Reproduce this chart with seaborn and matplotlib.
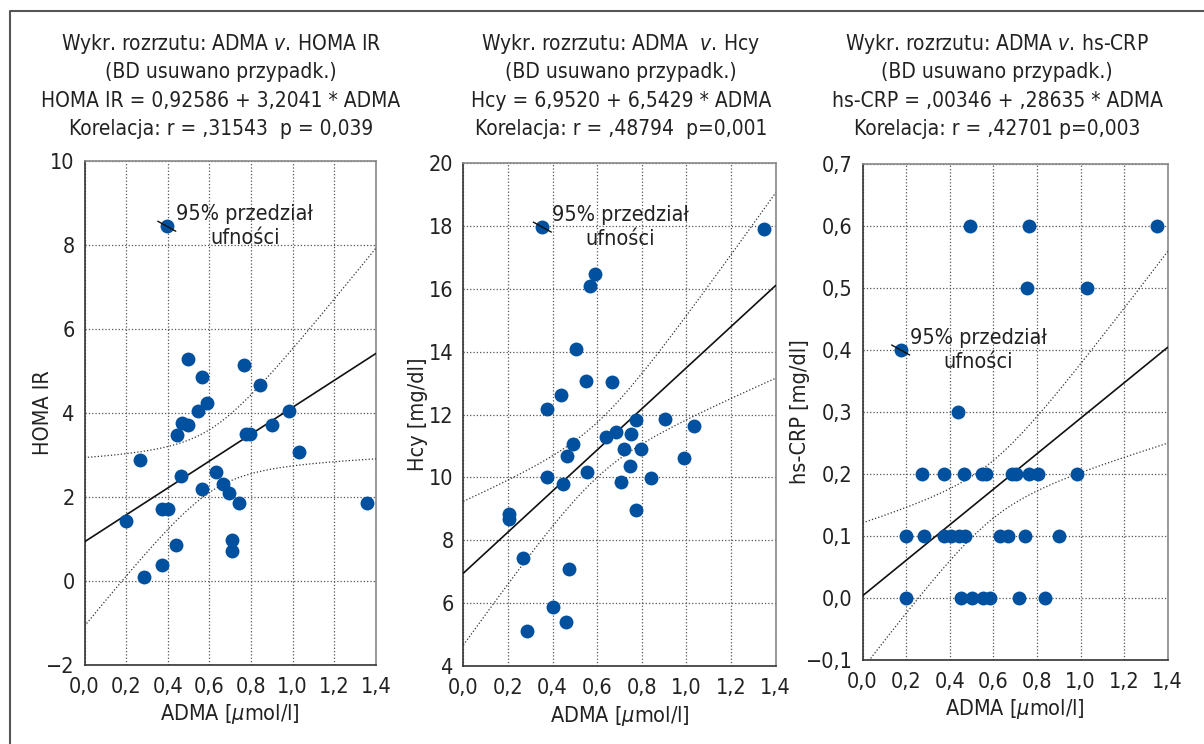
import matplotlib
matplotlib.use('Agg')
import matplotlib.pyplot as plt
import matplotlib.transforms as mtransforms
from matplotlib import font_manager as fm
from matplotlib.lines import Line2D
import seaborn as sns
import pandas as pd
import numpy as np

# --- data ---
homa_x = [0.395, 0.496, 0.566, 0.589, 0.547, 0.767, 0.842, 0.983, 0.470, 0.499,
          0.446, 0.775, 0.796, 0.901, 1.031, 0.267, 0.462, 0.632, 0.664, 0.693,
          0.566, 0.741, 1.357, 0.371, 0.403, 0.200, 0.708, 0.708, 0.438, 0.373, 0.286]
homa_y = [8.44, 5.27, 4.86, 4.24, 4.04, 5.13, 4.66, 4.04, 3.76, 3.70,
          3.46, 3.50, 3.50, 3.71, 3.07, 2.87, 2.50, 2.58, 2.30, 2.08,
          2.18, 1.84, 1.84, 1.70, 1.70, 1.42, 0.97, 0.71, 0.84, 0.37, 0.09]

hcy_x = [0.354, 1.349, 0.590, 0.568, 0.504, 0.549, 0.667, 0.438, 0.375, 0.773,
         0.903, 1.034, 0.683, 0.638, 0.752, 0.493, 0.722, 0.798, 0.465, 0.991,
         0.374, 0.556, 0.747, 0.448, 0.707, 0.841, 0.773, 0.205, 0.205, 0.269,
         0.472, 0.403, 0.459, 0.286]
hcy_y = [17.97, 17.90, 16.48, 16.10, 14.10, 13.07, 13.03, 12.62, 12.19, 11.82,
         11.85, 11.63, 11.45, 11.30, 11.40, 11.06, 10.91, 10.91, 10.67, 10.62,
         10.00, 10.18, 10.35, 9.79, 9.87, 9.98, 8.96, 8.84, 8.68, 7.45,
         7.10, 5.88, 5.39, 5.11]

crp_x = [0.495, 0.766, 1.349, 0.753, 1.028, 0.175, 0.438,
         0.271, 0.374, 0.464, 0.548, 0.568, 0.684, 0.705, 0.763, 0.804, 0.983,
         0.199, 0.283, 0.373, 0.405, 0.443, 0.470, 0.629, 0.667, 0.747, 0.903,
         0.199, 0.454, 0.502, 0.554, 0.586, 0.720, 0.838]
crp_y = [0.6, 0.6, 0.6, 0.5, 0.5, 0.4, 0.3,
         0.2, 0.2, 0.2, 0.2, 0.2, 0.2, 0.2, 0.2, 0.2, 0.2,
         0.1, 0.1, 0.1, 0.1, 0.1, 0.1, 0.1, 0.1, 0.1, 0.1,
         0.0, 0.0, 0.0, 0.0, 0.0, 0.0, 0.0]

# regression stats printed in the titles (n estimated: points overlap in the plot)
intercepts = [0.92586, 6.9520, 0.00346]
slopes = [3.2041, 6.5429, 0.28635]
r_values = [0.31543, 0.48794, 0.42701]
n_cases = [43, 47, 47]

titles = [
    ["Wykr. rozrzutu: ADMA $\\mathit{v.}\\,$HOMA IR", "(BD usuwano przypadk.)",
     "HOMA IR = 0,92586 + 3,2041 * ADMA", "Korelacja: r = ,31543  p = 0,039"],
    ["Wykr. rozrzutu: ADMA  $\\mathit{v.}\\,$Hcy", "(BD usuwano przypadk.)",
     "Hcy = 6,9520 + 6,5429 * ADMA", "Korelacja: r = ,48794  p=0,001"],
    ["Wykr. rozrzutu: ADMA $\\mathit{v.}\\,$hs-CRP", "(BD usuwano przypadk.)",
     "hs-CRP = ,00346 + ,28635 * ADMA", "Korelacja: r = ,42701 p=0,003"],
]
y_labels = ["HOMA IR", "Hcy [mg/dl]", "hs-CRP [mg/dl]"]
x_label = "ADMA [$\\mu$mol/l]"
x_ticks = [0.0, 0.2, 0.4, 0.6, 0.8, 1.0, 1.2, 1.4]
x_ticklabels = ["0,0", "0,2", "0,4", "0,6", "0,8", "1,0", "1,2", "1,4"]
y_ticks = [[-2, 0, 2, 4, 6, 8, 10],
           [4, 6, 8, 10, 12, 14, 16, 18, 20],
           [-0.1, 0.0, 0.1, 0.2, 0.3, 0.4, 0.5, 0.6, 0.7]]
y_ticklabels = [["\u22122", "0", "2", "4", "6", "8", "10"],
                ["4", "6", "8", "10", "12", "14", "16", "18", "20"],
                ["\u22120,1", "0,0", "0,1", "0,2", "0,3", "0,4", "0,5", "0,6", "0,7"]]
ci_label = "95% przedział\nufności"
ci_point = [0, 0, 5]   # which point carries the little leader mark

T_CRIT = 2.02  # t(0.975) for ~40 df

sns.set_style('white')

# pick a narrow sans if one is installed
fonts = fm.fontManager.ttflist
family, stretch = 'DejaVu Sans', 'normal'
if any(f.name == 'Liberation Sans Narrow' for f in fonts):
    family = 'Liberation Sans Narrow'
elif any(f.name == 'DejaVu Sans' and 'Condensed' in f.fname for f in fonts):
    stretch = 'condensed'
plt.rcParams['font.family'] = [family, 'DejaVu Sans']
plt.rcParams['font.stretch'] = stretch
plt.rcParams['mathtext.fontset'] = 'custom'
plt.rcParams['mathtext.rm'] = f'{family}:stretch={stretch}'
plt.rcParams['mathtext.it'] = f'{family}:style=italic:stretch={stretch}'

W, H = 1204, 744
fig = plt.figure(figsize=(W / 100, H / 100), dpi=100)

# axes boxes in pixels: left, right, top, bottom
boxes = [(84.5, 376, 160.7, 664.7), (463.3, 775.7, 163.3, 666), (862.5, 1167.7, 164, 660)]
title_cx = [221, 621, 997]
ylabel_x = [-0.108, -0.113, -0.172]

datasets = [(homa_x, homa_y), (hcy_x, hcy_y), (crp_x, crp_y)]
blue = '#0050A0'
fs = 15.5
fs_title = 15

for i, (xs, ys) in enumerate(datasets):
    l, r, t, b = boxes[i]
    ax = fig.add_axes([l / W, 1 - b / H, (r - l) / W, (b - t) / H])
    df = pd.DataFrame({'x': xs, 'y': ys})

    # fitted line and 95% confidence band for the mean, from b, r and n
    grid = np.linspace(0, 1.4, 200)
    yhat = intercepts[i] + slopes[i] * grid
    x_arr = np.asarray(xs)
    rr, nn = r_values[i], n_cases[i]
    scale = T_CRIT * abs(slopes[i]) * np.sqrt((1 - rr ** 2) / (rr ** 2 * (nn - 2)))
    half = scale * np.sqrt(x_arr.var() + (grid - x_arr.mean()) ** 2)
    fit = pd.DataFrame({'x': grid, 'fit': yhat, 'lo': yhat - half, 'hi': yhat + half})

    sns.lineplot(data=fit, x='x', y='fit', ax=ax, color='#111111', lw=1.2, zorder=3)
    sns.lineplot(data=fit, x='x', y='lo', ax=ax, color='#333333', lw=0.9, ls=':', zorder=3)
    sns.lineplot(data=fit, x='x', y='hi', ax=ax, color='#333333', lw=0.9, ls=':', zorder=3)
    sns.scatterplot(data=df, x='x', y='y', ax=ax, color=blue, s=100, linewidth=0, zorder=4)

    ax.set_xlim(0, 1.4)
    ax.set_ylim(y_ticks[i][0], y_ticks[i][-1])
    ax.set_xticks(x_ticks)
    ax.set_xticklabels(x_ticklabels)
    ax.set_yticks(y_ticks[i])
    ax.set_yticklabels(y_ticklabels[i])
    ax.tick_params(length=0, labelsize=fs, colors='#222222')
    ax.tick_params(axis='x', pad=9)
    ax.tick_params(axis='y', pad=7)
    ax.grid(True, ls=':', color='#555555', lw=0.9)
    for side in ['left', 'bottom']:
        ax.spines[side].set_color('#333333')
        ax.spines[side].set_linewidth(1.2)
    for side in ['top', 'right']:
        ax.spines[side].set_color('#888888')
        ax.spines[side].set_linewidth(1.2)

    ax.set_xlabel(x_label, fontsize=fs, color='#222222')
    ax.xaxis.set_label_coords(0.5, -0.075)
    ax.set_ylabel(y_labels[i], fontsize=fs, color='#222222')
    ax.yaxis.set_label_coords(ylabel_x[i], 0.5)

    # 95% CI note with the short leader through one point
    k = ci_point[i]
    px, py = xs[k], ys[k]
    tr = mtransforms.offset_copy(ax.transData, fig=fig, x=9, y=-5, units='dots')
    ax.annotate('', xy=(px, py), xycoords=tr, xytext=(-18, 10), textcoords='offset pixels',
                arrowprops=dict(arrowstyle='-', color='#111111', lw=1.0, shrinkA=0, shrinkB=0),
                zorder=5)
    ax.annotate(ci_label, xy=(px, py), xytext=(78, 0), textcoords='offset pixels',
                ha='center', va='center', multialignment='center',
                fontsize=fs, color='#222222', linespacing=1.25)

    for j, line in enumerate(titles[i]):
        fig.text(title_cx[i] / W, 1 - (50 + 28.3 * j) / H, line, ha='center',
                 va='baseline', fontsize=fs_title, color='#222222')

# outer frame (left and top edges only are visible)
fig.add_artist(Line2D([10 / W, 10 / W, 1], [0, 1 - 11 / H, 1 - 11 / H],
                      transform=fig.transFigure, color='#555555', lw=1.5))

fig.savefig('out.png', dpi=100)
